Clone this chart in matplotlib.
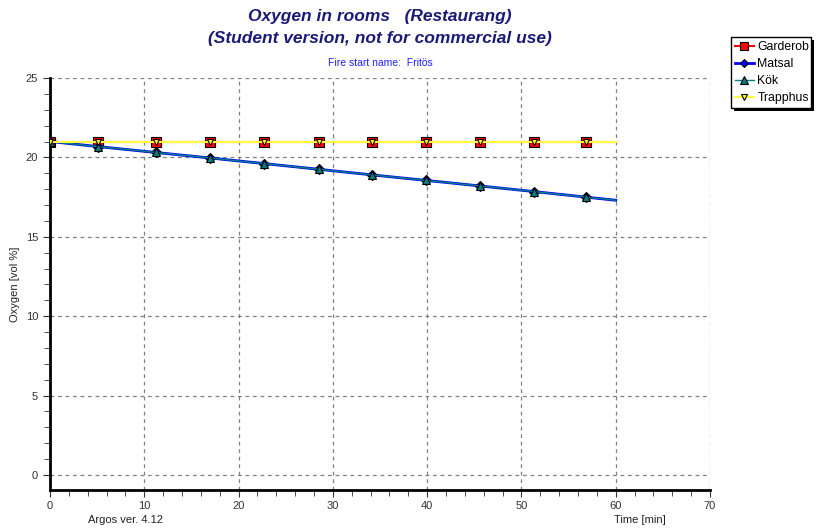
import matplotlib
matplotlib.use("Agg")
import matplotlib.pyplot as plt
from matplotlib.patches import Rectangle

plt.rcParams['font.family'] = ['Liberation Sans', 'DejaVu Sans']

# Time samples [min] and oxygen concentration [vol %] per room
time = [0, 5.1, 11.2, 17.0, 22.7, 28.5, 34.1, 39.9, 45.6, 51.3, 56.8, 60.0]
garderob = [21.0, 21.0, 21.0, 21.0, 21.0, 21.0, 21.0, 21.0, 21.0, 21.0, 21.0, 21.0]
matsal = [21.0, 20.68, 20.31, 19.96, 19.61, 19.25, 18.9, 18.55, 18.2, 17.85, 17.5, 17.3]
kok = [21.0, 20.68, 20.31, 19.96, 19.61, 19.25, 18.9, 18.55, 18.2, 17.85, 17.5, 17.3]
trapphus = [21.0, 21.0, 21.0, 21.0, 21.0, 21.0, 21.0, 21.0, 21.0, 21.0, 21.0, 21.0]

series_names = ["Garderob", "Matsal", "Kök", "Trapphus"]
x_ticks = [0, 10, 20, 30, 40, 50, 60, 70]
y_ticks = [0, 5, 10, 15, 20, 25]

fig = plt.figure(figsize=(8.17, 5.30), dpi=100)
fig.patch.set_facecolor("white")
ax = fig.add_axes([50 / 817, 1 - 490 / 530, 660 / 817, (490 - 78) / 530])

marks = slice(0, -1)
styles = [
    (garderob, "#ff0000", "s", "#ff0000", 6.5, 1.5),
    (matsal, "#0000ff", "D", "#0000ff", 5, 2.0),
    (kok, "#008080", "^", "#008080", 6, 1.0),
    (trapphus, "#ffff40", "v", "#ffff00", 5, 1.5),
]
handles = []
for (vals, col, mk, fc, ms, lw), name in zip(styles, series_names):
    ln, = ax.plot(time, vals, color=col, lw=lw, marker=mk, markersize=ms,
                  markerfacecolor=fc, markeredgecolor="black", markeredgewidth=0.8,
                  markevery=marks, label=name, zorder=3)
    handles.append(ln)

ax.set_xlim(0, 70)
ax.set_ylim(-0.95, 25)
ax.set_xticks(x_ticks)
ax.set_yticks(y_ticks)
ax.set_xticks(range(0, 71, 2), minor=True)
ax.set_yticks(range(0, 26, 1), minor=True)
ax.grid(True, which="major", color="#808080", linestyle=(0, (3, 3)), lw=0.9)
ax.tick_params(which="both", direction="out", colors="#333333", labelsize=8)
ax.tick_params(which="major", length=5)
ax.tick_params(which="minor", length=4)
ax.tick_params(axis="x", pad=3)

for side in ("top", "right"):
    ax.spines[side].set_visible(False)
for side in ("left", "bottom"):
    ax.spines[side].set_linewidth(2)
    ax.spines[side].set_color("black")

ax.set_ylabel("Oxygen [vol %]", fontsize=8, color="#222222", labelpad=4)
fig.text(640 / 817, 1 - 520 / 530, "Time [min]", fontsize=8, color="#222222",
         ha="center", va="center")
fig.text(125 / 817, 1 - 520 / 530, "Argos ver. 4.12", fontsize=8, color="#222222",
         ha="center", va="center")

fig.text(380 / 817, 1 - 16 / 530, "Oxygen in rooms   (Restaurang)", fontsize=12.5,
         fontweight="bold", fontstyle="italic", color="#1a1a78", ha="center", va="center")
fig.text(380 / 817, 1 - 38 / 530, "(Student version, not for commercial use)", fontsize=12.5,
         fontweight="bold", fontstyle="italic", color="#1a1a78", ha="center", va="center")
fig.text(380 / 817, 1 - 63 / 530, "Fire start name:  Fritös", fontsize=7.5,
         color="#2020ff", ha="center", va="center")

# Legend box with drop shadow
lx0, ly0, lw_, lh_ = 731, 37, 80, 68
leg = fig.legend(handles=handles, loc="upper left",
                 bbox_to_anchor=(lx0 / 817, 1 - (ly0 + lh_) / 530, lw_ / 817, lh_ / 530),
                 mode="expand", fontsize=8.8, frameon=True, fancybox=False,
                 handlelength=1.5, handletextpad=0.3, borderpad=0.35, labelspacing=0.4,
                 borderaxespad=0, markerscale=0.85)
leg.get_frame().set_edgecolor("black")
leg.get_frame().set_linewidth(1)
leg.get_frame().set_alpha(1)
leg.set_zorder(2)

fig.canvas.draw()
bb = leg.get_window_extent().transformed(fig.transFigure.inverted())
fig.patches.append(Rectangle((bb.x0 + 3 / 817, bb.y0 - 3 / 530), bb.width, bb.height,
                             transform=fig.transFigure, facecolor="black", edgecolor="none", zorder=1))

fig.savefig("out.png", dpi=100)
